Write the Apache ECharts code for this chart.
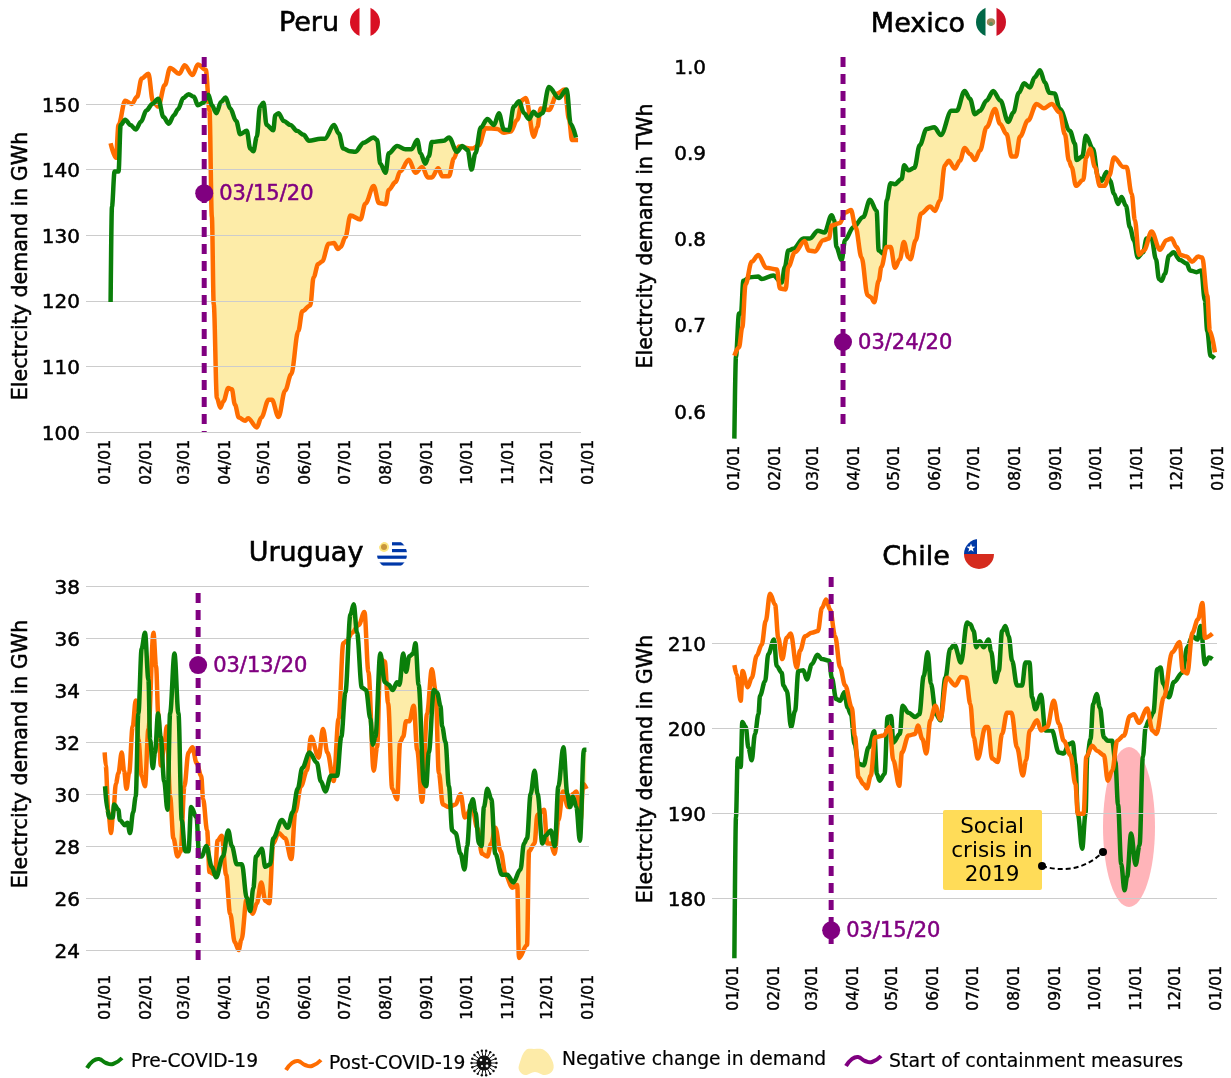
<!DOCTYPE html>
<html><head><meta charset="utf-8">
<style>html,body{margin:0;padding:0;background:#fff}#c{width:1231px;height:1078px}</style>
<script src="https://cdn.jsdelivr.net/npm/echarts@6/dist/echarts.min.js"></script>
</head><body><div id="c"></div>
<script>
const FONT = '"DejaVu Sans",sans-serif';
const monthDays = [0,31,60,91,121,152,182,213,244,274,305,335,366];
const monthLabels = ['01/01','02/01','03/01','04/01','05/01','06/01','07/01','08/01','09/01','10/01','11/01','12/01','01/01'];

const peruPre = [[5,119.8],[6,134.3],[8,139.7],[11,139.7],[12.6,146.8],[16,147.6],[20,146.8],[24,146.1],[28,147.3],[32,149],[36.6,150],[41,150.8],[45,148],[49,147],[53,148.3],[56,149.2],[60,150.9],[64,151.5],[68,151.1],[71,149.8],[75,150.2],[79,151.4],[81.6,149.8],[85,148.6],[88.5,150.3],[92,151],[95.5,149.3],[100,147.4],[103,145.4],[108,145.9],[110.6,143.2],[113,142.8],[115.6,145],[118,149.6],[120.6,150.2],[123,146.8],[128,146],[129.6,148.3],[132,148.6],[136,147.4],[141,146.8],[146,145.9],[151,145.3],[155,144.4],[164,144.7],[167,144.7],[174,146.8],[177.6,145.5],[181,143.2],[186,142.8],[190,142.7],[196.5,144.1],[204,144.9],[206.6,144.5],[209,140.9],[213,139.5],[215.4,142.5],[221.7,143.6],[228,143.1],[232.6,143.1],[237,144.5],[239.4,142.5],[243,140.9],[245.7,142],[248,144.2],[257,144.4],[261,144.9],[267,142.7],[271,143.6],[275,143],[278,140],[281,142.5],[285,146.4],[290,147.7],[295,146.8],[298.7,148.6],[302.5,146.1],[306.3,146],[310,149.6],[314,150.4],[317.7,148.6],[321.5,147.7],[325,148.8],[328,148.2],[331.6,148.6],[336.6,152.6],[344,150.9],[350,152.2],[353,147],[357,144.9]];
const peruPost = [[5,144],[9,141.8],[11,146.8],[16,150.5],[21,150],[25,151.1],[28.5,153.9],[33.6,154.6],[37,150.4],[41,149.6],[46,152.9],[50,155.5],[57,154.6],[61,155.9],[67,154.4],[71,156],[77,155.2],[79.8,149],[81.6,132.8],[83,119.5],[85.4,105.2],[88,103.7],[90.4,104.7],[94,106.7],[96.7,106.5],[99,104.2],[102,102.2],[106.8,101.7],[109,102.1],[115.6,100.7],[119,102.2],[124.5,104.9],[127,104.9],[132,102.3],[137,106.3],[141.6,108.8],[147,115.4],[150,118.4],[156,119.3],[158.6,123.6],[162,125.6],[165,126],[170,128.7],[174,128.8],[177,127.9],[179,128.2],[182.6,129.7],[186.4,133],[194,132.4],[197.7,134.8],[204,137.5],[208,134.9],[213,134.7],[215.4,136.9],[220.5,138.1],[224,139.7],[230.6,141.5],[235.6,139.5],[240.7,140.4],[245,138.8],[248,138.8],[252.8,140.2],[255.8,139],[260.9,139],[264.7,141.7],[268.4,143.5],[278.5,143.2],[283.6,143.7],[288.6,146.3],[297.5,146.2],[302.5,145.6],[307.6,145.8],[312.6,147.6],[316.4,150.6],[319,150.9],[325.2,145],[327.8,146.5],[330.3,149.3],[336.6,149.1],[343,151.6],[348.5,152.2],[351.8,147.6],[354,144.5],[358.6,144.5]];

const mexicoPre = [[0.8,0.568],[2,0.663],[4.3,0.713],[5.8,0.713],[7.6,0.751],[12.6,0.755],[18.9,0.756],[21.4,0.753],[30.3,0.757],[36.6,0.749],[39,0.767],[41.6,0.786],[45.4,0.788],[53,0.8],[58,0.8],[64,0.809],[69,0.807],[74.4,0.827],[76.4,0.821],[78,0.79],[82,0.775],[84.5,0.798],[90.8,0.813],[98.3,0.825],[103.4,0.845],[108.4,0.832],[110,0.786],[114,0.782],[116,0.844],[119,0.864],[122.3,0.863],[127.3,0.869],[129.3,0.885],[132.4,0.879],[137,0.882],[141,0.908],[146.2,0.927],[152,0.929],[157,0.92],[165,0.948],[169,0.948],[175,0.971],[179,0.962],[182.8,0.944],[186.6,0.948],[191.6,0.96],[196.6,0.971],[202,0.96],[208,0.935],[211.8,0.946],[216,0.969],[220,0.98],[224.4,0.975],[228,0.987],[232,0.995],[235.7,0.981],[239,0.969],[243,0.968],[247,0.95],[254.6,0.925],[258.4,0.91],[259.7,0.891],[264,0.895],[266.7,0.919],[272,0.904],[276,0.871],[278.6,0.867],[282.4,0.877],[285,0.867],[288,0.852],[291,0.84],[293.7,0.848],[297,0.838],[300,0.813],[303,0.798],[306,0.778],[310,0.784],[312.6,0.8],[316.4,0.8],[319.7,0.776],[322,0.753],[324,0.751],[326.5,0.759],[329.5,0.78],[333,0.784],[337.8,0.775],[343,0.771],[345.4,0.763],[350.4,0.761],[354,0.763],[356.7,0.728],[358.5,0.693],[361,0.664],[364,0.661]];
const mexicoPost = [[0.8,0.664],[4.3,0.674],[6.8,0.697],[9.3,0.747],[13.9,0.773],[18.9,0.781],[25,0.766],[33,0.764],[35.3,0.742],[39.6,0.741],[41.6,0.767],[46.6,0.784],[54,0.797],[57,0.786],[61.8,0.785],[68,0.798],[72.4,0.8],[74.4,0.815],[80.7,0.818],[84.5,0.83],[89,0.833],[92.5,0.813],[97,0.778],[101.6,0.734],[104,0.732],[106.6,0.726],[110,0.751],[112,0.767],[116,0.79],[119,0.79],[122.3,0.766],[126,0.776],[129,0.796],[132.4,0.778],[134,0.776],[138,0.798],[142,0.829],[149,0.837],[152.5,0.832],[156.3,0.844],[160,0.885],[163,0.89],[167.6,0.881],[171.4,0.89],[175,0.905],[179,0.898],[182.8,0.891],[186.6,0.902],[191.6,0.929],[198,0.95],[201.7,0.933],[206.7,0.921],[210.5,0.895],[213.8,0.895],[216.8,0.918],[223,0.937],[229.4,0.956],[235,0.951],[240.8,0.956],[247,0.946],[250.8,0.921],[253.9,0.89],[255.9,0.883],[259.2,0.861],[264.7,0.868],[267,0.894],[270,0.904],[273.5,0.883],[277.3,0.861],[281,0.861],[284.4,0.873],[288,0.894],[295,0.883],[297.5,0.883],[301.3,0.852],[303.8,0.821],[306.8,0.781],[310.6,0.786],[316.4,0.808],[322.7,0.787],[327.7,0.798],[331.5,0.8],[335.3,0.79],[338.3,0.781],[343,0.779],[347,0.773],[351.7,0.779],[354.7,0.778],[358.5,0.734],[360.5,0.693],[364.3,0.668]];

const uruguayPre = [[0.8,30.3],[2.5,29.4],[4,29.1],[6.6,29.1],[7.6,29.6],[10.9,29.4],[12,29],[16,28.8],[17.7,28.9],[19.7,28.5],[22,29.3],[24,29.9],[26,33.1],[28.5,35.6],[31,36.2],[33.6,34.4],[34.9,32.1],[36.9,31],[38.6,31.6],[40.9,33.1],[42.9,32.2],[45.5,30.5],[48,29.4],[50,33.1],[53.3,35.4],[56.3,33.1],[58.8,29],[61.4,27.8],[63.9,27.8],[65.9,29.5],[70,29.1],[72,27.6],[74,27.6],[77.3,28],[81.6,27.2],[84.8,26.8],[89.9,27.6],[94,28.6],[96.7,28],[100.5,27.3],[104.3,27.3],[108,26],[110.6,25.5],[113,26.4],[115,27.6],[119.4,27.9],[122,27.2],[125.7,27.3],[128,28.3],[134.6,29],[139,28.7],[142.7,29.3],[146.5,30.2],[150,31],[155.5,31.6],[161,31.2],[164,30.5],[167.4,30.1],[171.7,30.7],[176.3,30.7],[179.5,32.2],[182.6,33.9],[186.4,36.9],[188.9,37.3],[191.4,36.2],[195,34.1],[198.2,34],[201.5,32.9],[203.3,31.9],[205.3,32.2],[209,35.4],[212.4,34.3],[215.4,34.2],[218.4,34],[221.7,34.3],[223.5,34.2],[226.3,35.4],[228.5,34.7],[231,35.3],[233.8,35.4],[235.6,35.8],[238,34.2],[242,30.4],[243.7,30.3],[245.7,31.6],[249.5,34],[252,33.9],[254.5,33.4],[255.8,32.6],[258.3,32],[260.9,30.3],[263.4,28.6],[265.9,28.5],[269.7,27.7],[272.7,27.1],[274.7,28],[277.3,29.6],[279,29.8],[281,29.3],[283.6,28.1],[285.6,28],[287.4,29.5],[290,30.2],[293,29.8],[296,27.7],[301,26.9],[305,26.9],[309.6,26.6],[315,27.1],[317.7,28.1],[320,28.3],[322.7,30],[325.7,30.9],[328,30],[331.6,28.1],[334,28.4],[337.9,28.6],[341,28],[343.7,30.3],[347.5,31.8],[350.5,30],[352.5,29.5],[354.8,29.9],[357.3,29.5],[360,28.2],[363,31.7],[364.9,31.7]];
const uruguayPost = [[0.5,31.6],[1.3,31.1],[3.3,29.3],[5.3,28.5],[7,29.3],[9,30.4],[10.9,30.8],[13.4,31.6],[15.2,30.9],[17,30.2],[19,30.8],[21.7,32.6],[24,33.6],[26,32.1],[28.5,30.7],[31,30.3],[33.6,32.5],[37.4,36.2],[39.4,34.9],[41,33.1],[43,31.1],[45.5,31.8],[47.5,32.6],[50,29.9],[52.5,28.3],[55.6,27.6],[58,27.8],[60.8,30.3],[63.9,31.6],[66.9,31.8],[70,31.2],[73.5,30.7],[75,29.8],[78,28.6],[79.8,27],[84,26.9],[85.9,28.2],[89,28.4],[92.4,26.9],[95.4,25.4],[99,24.3],[101.8,24],[104,24.4],[108,26],[112.6,25.4],[115.6,25.8],[119,26.6],[122,25.9],[125,25.8],[128,28.1],[132,28.5],[137,28.3],[141.7,27.5],[144.7,29.3],[149,30.3],[153.5,30.9],[156.6,32.2],[162.4,31.4],[165.6,32.5],[169,31.6],[173.7,30.5],[177.5,32.9],[181,35.8],[183.8,35.9],[187.6,36.2],[192.7,36.5],[197,37],[200,34.7],[204,30.9],[206.6,31.8],[209,35.2],[212.4,35.1],[214.9,33.5],[218,30.2],[221.7,29.8],[224,32],[226.3,32.2],[228.5,32.8],[231,32.8],[234.3,33.4],[236.9,31.7],[240.6,29.7],[244.4,33.1],[248,34.8],[250.8,34],[253.3,30.8],[256.3,29.6],[260.9,29.5],[265.9,29.6],[269.7,30],[273,29.1],[278.5,29.5],[282.3,28.7],[286,27.7],[290,27.6],[293,28.1],[296,28.7],[300,27.8],[303.8,26.9],[308.8,26.4],[312.6,26.5],[313.9,23.7],[320,24.2],[321.5,27.8],[325.7,28.1],[327.8,29.2],[332.8,29.4],[335.3,28.1],[337.9,28.1],[340.9,27.7],[343.7,29],[347.2,30.1],[351,29.5],[354.8,30],[357.3,30.1],[360.6,29],[362.4,30.4],[365,30.2]];

const chilePre = [[1.8,172.9],[3,189.5],[4.3,196.4],[6.6,195.4],[7.8,200.7],[10.4,200.1],[12.4,197.7],[14.9,196.2],[17.4,199.3],[20,201.6],[21.2,203.8],[25,205.5],[27.5,208.7],[31.8,210.4],[33.8,207.3],[37.6,206.5],[38.9,205],[41.4,204.4],[44.7,200.1],[47.7,202],[50.2,206.7],[54,206.8],[56.6,205.7],[60.4,207.5],[64.6,208.6],[68,208.1],[73.5,207.9],[75.5,205.9],[78.8,203.4],[81.8,203.2],[85,204.2],[87.4,202.4],[90,201.6],[92.7,198.1],[95.7,195.8],[99.5,195.6],[103.3,197.7],[107.6,199.6],[109.6,194.6],[111.6,193.8],[115.4,194.6],[117.7,201.3],[120.4,201.4],[122,198.3],[127,199.3],[129,202.6],[133.5,201.8],[138.6,201.3],[141.7,201.6],[145,206.1],[148,208.9],[150.5,205.2],[154.3,201.6],[157.6,200.9],[161.4,205.9],[165,209.3],[168.2,209.8],[173.2,207.7],[177.8,212.4],[180.3,212.2],[182.8,211.4],[184.8,209.5],[187.4,210.2],[190.4,209.5],[194,210.4],[196,209],[199.2,205.4],[201.8,206.7],[204.3,211.4],[206.8,212],[209.3,210.8],[211.9,207.9],[215.6,205],[219.4,205],[222,207.7],[225,207.7],[227,203.6],[229.5,202.2],[233.8,203.9],[237,199.7],[242,199.7],[247.2,197.1],[251,197],[254.8,198.1],[257.8,198.3],[259.8,195.8],[261.6,189.9],[264.9,185.8],[267.4,189.9],[268.7,196.6],[271.2,198.7],[273.2,202.8],[275.8,204],[278.3,202.4],[281.3,198.9],[284.3,198.5],[287.6,198.5],[290,196],[292,191],[294.4,184],[296.9,180.9],[298.9,182.5],[301.9,187.6],[305.3,183.9],[308.3,186.2],[310.8,196.6],[312.9,200.1],[315.4,200.9],[318.7,201.8],[321.7,206.9],[324.2,207.1],[326.2,205.2],[330.5,203.6],[334.3,205.4],[340.6,206.5],[344.4,209.5],[348.2,210.8],[352,210.4],[354.5,212],[357.8,207.5],[360.8,208.3],[363.4,208.1]];
const chilePost = [[1.8,207.4],[3.5,206.3],[6.6,203.2],[8,206.7],[11.9,204.8],[14.9,205.9],[18.7,208.5],[22.5,209.8],[25.5,212.6],[28.8,215.8],[32.6,214.5],[35,210.6],[38,208.1],[41.4,210.6],[44.4,211.1],[49,207.1],[51.5,209.1],[55.3,210.8],[60.4,211.2],[65,211.4],[68,214.1],[71.2,215.1],[74.2,213.9],[78,210.8],[81.8,207.1],[85.6,205],[90.6,202.4],[93,199],[95.7,194.2],[99.5,193.4],[102,192.9],[105,194.4],[108.3,198.9],[114.6,199.1],[119.2,200.1],[122,196.2],[126.5,193.2],[128.5,197.1],[133.5,199.1],[138.6,199.3],[140.6,200.3],[144,198.7],[147,197],[150,200.9],[153.8,202.6],[157.6,201],[162.6,205.9],[169,205],[173.2,206],[177,205.9],[180.3,202.8],[182.8,198.9],[185.9,196.4],[191.7,200.1],[193.7,200.1],[196.7,196.4],[201,196],[204.3,199.3],[208,201.8],[211.4,201.8],[215.6,197.7],[220,194.4],[222.5,196.2],[225.2,199.7],[230.8,200.9],[233.8,199.7],[238.4,200.1],[243.4,203.2],[247.2,200.5],[251,198.5],[256,196.8],[259.8,193.4],[261.6,189.9],[266,189.9],[268,196.6],[272.5,197.9],[276.3,197.3],[281.3,196.8],[284.3,193.8],[287.6,195],[291.4,198.5],[296.4,199.1],[301,201.4],[304,201.6],[307.8,200.6],[314.1,202.3],[318,199.7],[321,199.3],[326.7,203.6],[333,208.9],[338.6,210.1],[341,206.7],[344.4,206.4],[348.2,211.2],[352.5,212.8],[355.8,214.7],[357.8,210.6],[363.4,211.1]];

const peruTicks = [100,110,120,130,140,150];
const mexicoTicks = [0.6,0.7,0.8,0.9,1.0];
const uruguayTicks = [24,26,28,30,32,34,36,38];
const chileTicks = [180,190,200,210];

const K = 1.322;
const panels = [
 {name:'Peru',pre:peruPre,post:peruPost,ticks:peruTicks,fmt:v=>String(v),x0:104,left:86,lineEnd:581,top:57,bottom:432,yMin:100,yMax:157.16,vDay:75.8,vTop:157.16,vBot:100,dotY:136.4,date:'03/15/20',fillFrom:76,greenTop:true},
 {name:'Mexico',pre:mexicoPre,post:mexicoPost,ticks:mexicoTicks,fmt:v=>v.toFixed(1),x0:733.3,left:712,lineEnd:1221,top:57,bottom:438,yMin:0.5687,yMax:1.0104,vDay:83,vTop:1.0104,vBot:0.578,dotY:0.68,date:'03/24/20',fillFrom:0,greenTop:false},
 {name:'Uruguay',pre:uruguayPre,post:uruguayPost,ticks:uruguayTicks,fmt:v=>String(v),x0:104,left:86,lineEnd:589,top:586,bottom:967,yMin:23.35,yMax:38,vDay:71.2,vTop:37.73,vBot:23.35,dotY:34.96,date:'03/13/20',fillFrom:0,greenTop:true},
 {name:'Chile',pre:chilePre,post:chilePost,ticks:chileTicks,fmt:v=>String(v),x0:732,left:712,lineEnd:1217,top:577,bottom:958,yMin:172.94,yMax:217.76,vDay:75,vTop:217.76,vBot:173.9,dotY:176.2,date:'03/15/20',fillFrom:0,greenTop:false}
];

function at(arr,d){
  if(d<arr[0][0]||d>arr[arr.length-1][0]) return null;
  for(let i=1;i<arr.length;i++){ if(d<=arr[i][0]){ const a=arr[i-1],b=arr[i]; return a[1]+(b[1]-a[1])*(d-a[0])/(b[0]-a[0]); } }
  return null;
}
function gapRuns(pre,post,from){
  const runs=[]; let cur=null;
  for(let d=from;d<=366;d+=0.25){
    const p=at(pre,d),q=at(post,d);
    if(p!==null&&q!==null&&p>q){ if(!cur){cur=[];runs.push(cur);} cur.push([d,p,q]); } else cur=null;
  }
  return runs;
}

const grid=[],xAxis=[],yAxis=[],series=[];
const GREEN='#0A7F0A',ORANGE='#FF6D00',PURPLE='#800080';
panels.forEach((p,i)=>{
  const xMin=(p.left-p.x0)/K, xMax=368, gridEndDay=(p.lineEnd-p.x0)/K;
  grid.push({left:p.left,top:p.top,width:(xMax-xMin)*K,height:p.bottom-p.top,containLabel:false});
  xAxis.push({gridIndex:i,type:'value',min:xMin,max:xMax,splitLine:{show:false},axisLine:{show:false},axisTick:{show:false},
    axisLabel:{customValues:monthDays,formatter:v=>monthLabels[monthDays.lastIndexOf(v)],rotate:90,margin:8,verticalAlign:'top',lineHeight:3,color:'#000',fontFamily:FONT,fontSize:15.5,textBorderColor:'#000',textBorderWidth:0.4}});
  yAxis.push({gridIndex:i,type:'value',min:p.yMin,max:p.yMax,splitLine:{show:false},axisLine:{show:false},axisTick:{show:false},
    axisLabel:{customValues:p.ticks,formatter:p.fmt,margin:6,verticalAlign:'top',lineHeight:5,color:'#000',fontFamily:FONT,fontSize:20,textBorderColor:'#000',textBorderWidth:0.5}});
  const runs=gapRuns(p.pre,p.post,p.fillFrom);
  series.push({type:'line',xAxisIndex:i,yAxisIndex:i,data:[],z:1,silent:true,symbol:'none',
    markLine:{silent:true,symbol:'none',label:{show:false},animation:false,lineStyle:{color:'#CCCCCC',width:1,type:'solid'},
      data:p.ticks.map(t=>[{coord:[xMin,t]},{coord:[gridEndDay,t]}])}});
  series.push({type:'custom',xAxisIndex:i,yAxisIndex:i,z:2,silent:true,clip:true,data:runs.map((r,j)=>[j,p.yMin]),encode:{x:0,y:1},
    renderItem:(params,api)=>{
      const r=runs[api.value(0)];
      const pts=r.map(t=>api.coord([t[0],t[1]])).concat(r.slice().reverse().map(t=>api.coord([t[0],t[2]])));
      return {type:'polygon',shape:{points:pts},style:{fill:'rgba(251,217,81,0.5)',stroke:null}};
    }});
  series.push({type:'line',name:'Pre-COVID-19',xAxisIndex:i,yAxisIndex:i,data:p.pre,z:p.greenTop?5:4,symbol:'none',smooth:0.35,smoothMonotone:'x',lineStyle:{color:GREEN,width:4.5},silent:true});
  series.push({type:'line',name:'Post-COVID-19',xAxisIndex:i,yAxisIndex:i,data:p.post,z:p.greenTop?4:5,symbol:'none',smooth:0.35,smoothMonotone:'x',lineStyle:{color:ORANGE,width:4.5},silent:true});
  series.push({type:'line',xAxisIndex:i,yAxisIndex:i,data:[[p.vDay,p.vTop],[p.vDay,p.vBot]],z:6,symbol:'none',silent:true,lineStyle:{color:PURPLE,width:5,type:[10,7]}});
  series.push({type:'scatter',xAxisIndex:i,yAxisIndex:i,data:[[p.vDay,p.dotY]],z:7,symbol:'circle',symbolSize:18,silent:true,itemStyle:{color:PURPLE,opacity:1},
    label:{show:true,position:'right',distance:6,offset:[0,1.5],formatter:p.date,color:PURPLE,opacity:1,fontFamily:FONT,fontSize:21,textBorderColor:PURPLE,textBorderWidth:0.5}});
});

function svgUri(s){return 'data:image/svg+xml;charset=utf-8,'+encodeURIComponent(s);}
function flag(inner){return svgUri('<svg xmlns="http://www.w3.org/2000/svg" width="60" height="60" viewBox="0 0 30 30"><defs><clipPath id="c"><circle cx="15" cy="15" r="15"/></clipPath></defs><g clip-path="url(#c)">'+inner+'</g></svg>');}
const flags={
 Peru:flag('<rect width="30" height="30" fill="#fff"/><rect width="9.5" height="30" fill="#D91023"/><rect x="20.5" width="9.5" height="30" fill="#D91023"/>'),
 Mexico:flag('<rect width="30" height="30" fill="#fff"/><rect width="9.5" height="30" fill="#006847"/><rect x="20.5" width="9.5" height="30" fill="#CE1126"/><ellipse cx="15" cy="15" rx="4.2" ry="3.8" fill="#A68A5B"/><circle cx="15" cy="17" r="2" fill="#5F8F5A"/>'),
 Uruguay:flag('<rect width="30" height="30" fill="#fff"/><g fill="#0038A8"><rect x="15" y="3.2" width="15" height="3.2"/><rect x="15" y="10" width="15" height="3.2"/><rect y="16.6" width="30" height="3.2"/><rect y="23.4" width="30" height="3.2"/></g><circle cx="7" cy="8" r="5" fill="#FCD116" opacity=".55"/><circle cx="7" cy="8" r="3" fill="#C8963C"/>'),
 Chile:flag('<rect width="30" height="30" fill="#fff"/><rect y="15" width="30" height="15" fill="#D52B1E"/><rect width="13" height="15" fill="#0039A6"/><path d="M7 4.5l1.1 3.1 3.3.1-2.6 2 .9 3.1-2.7-1.8-2.7 1.8.9-3.1-2.6-2 3.3-.1z" fill="#fff"/>')
};
function ray(cx,cy,n){let s='';for(let i=0;i<n;i++){const a=i*2*Math.PI/n,c=Math.cos(a),t=Math.sin(a);s+=`<line x1="${cx+c*7}" y1="${cy+t*7}" x2="${cx+c*12}" y2="${cy+t*12}" stroke="#111" stroke-width="1"/><circle cx="${cx+c*12.5}" cy="${cy+t*12.5}" r="1.2" fill="#111"/>`;}return s;}
const virus=svgUri('<svg xmlns="http://www.w3.org/2000/svg" width="56" height="56" viewBox="0 0 28 28"><circle cx="14" cy="14" r="7.5" fill="#111"/>'+ray(14,14,18)+'<g fill="#fff"><circle cx="11" cy="11" r="1.3"/><circle cx="17" cy="12" r="1.1"/><circle cx="12" cy="17" r="1.1"/><circle cx="17" cy="17" r="1.4"/></g></svg>');

const txt=(text,x,y,size)=>({type:'text',x,y,z:20,style:{text,fill:'#000',font:`500 ${size}px ${FONT}`,align:'left',verticalAlign:'middle',stroke:'#000',lineWidth:0.2}});
const ylab=(text,x,y)=>({type:'text',x,y,rotation:Math.PI/2,z:20,style:{text,fill:'#000',font:`500 20.6px ${FONT}`,align:'center',verticalAlign:'middle',stroke:'#000',lineWidth:0.5}});
const img=(uri,x,y,w,h)=>({type:'image',x,y,z:20,style:{image:uri,width:w,height:h}});
const wave=(x,y,color)=>({type:'polyline',z:11,x,y,shape:{points:[[0,10],[6,3],[12,1],[19,5],[26,6],[35,0]],smooth:0.5},style:{fill:'none',stroke:color,lineWidth:4}});

const graphic=[
 img(flags.Peru,350,7,30,30),img(flags.Mexico,976,7,30,30),img(flags.Uruguay,377,539,30,30),img(flags.Chile,964,539,30,30),
 ylab('Electrcity demand in GWh',22,266),ylab('Electrcity demand in TWh',647,236),ylab('Electrcity demand in GWh',22,754),ylab('Electrcity demand in GWh',647,769),
 {type:'ellipse',z:1,shape:{cx:1129,cy:827,rx:26,ry:80},style:{fill:'rgba(255,105,115,0.5)'}},
 {type:'rect',z:10,shape:{x:943,y:810,width:99,height:80,r:2},style:{fill:'#FFDC58'}},
 {type:'text',z:11,x:992,y:851,style:{text:'Social\ncrisis in\n2019',fill:'#000',font:`400 21.5px ${FONT}`,lineHeight:24,align:'center',verticalAlign:'middle'}},
 {type:'bezierCurve',z:11,shape:{x1:1042,y1:866,cpx1:1062,cpy1:872,cpx2:1085,cpy2:870,x2:1103,y2:852},style:{fill:'none',stroke:'#000',lineWidth:2,lineDash:[5,3]}},
 {type:'circle',z:12,shape:{cx:1042,cy:866,r:4},style:{fill:'#000'}},
 {type:'circle',z:12,shape:{cx:1103,cy:852,r:4},style:{fill:'#000'}},
 wave(87,1058,GREEN),wave(286,1060,ORANGE),wave(846,1056,PURPLE),
 {type:'polygon',z:11,shape:{points:[[520,1062],[526,1050],[534,1049],[544,1050],[552,1060],[553,1070],[545,1075],[535,1072],[525,1075],[519,1070]],smooth:0.4},style:{fill:'#FDEBA8'}},
 img(virus,470,1049,28,28),
 txt('Pre-COVID-19',131,1062,18.7),txt('Post-COVID-19',329,1064,18.7),txt('Negative change in demand',562,1060,18.7),txt('Start of containment measures',889,1062,18.9)
];

const title=[['Peru',309,10],['Mexico',918,11],['Uruguay',306,540],['Chile',916,544]].map(t=>({text:t[0],left:t[1],top:t[2],textAlign:'center',padding:0,
  textStyle:{color:'#000',fontFamily:FONT,fontSize:27,fontWeight:500,textBorderColor:'#000',textBorderWidth:0.6}}));

const chart=echarts.init(document.getElementById('c'),null,{renderer:'canvas',width:1231,height:1078});
chart.setOption({animation:false,backgroundColor:'#fff',title,grid,xAxis,yAxis,series,graphic:{elements:graphic}});
</script></body></html>
